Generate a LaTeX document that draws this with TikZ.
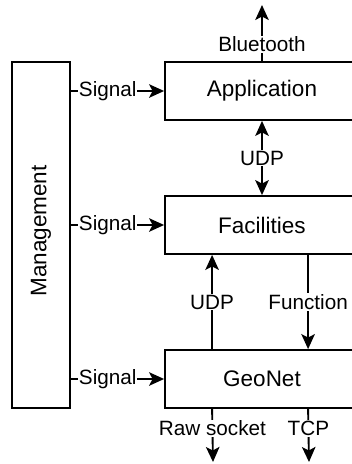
\documentclass[tikz,border=0pt]{standalone}
\usepackage{fontspec}
\setmainfont{Liberation Sans}
\usepackage{tikz}
\usetikzlibrary{arrows.meta}
\tikzstyle{layer}=[rectangle, draw=black, line width=1.8pt, minimum width=194pt, minimum height=58pt, inner sep=0pt, font=\fontsize{22.5}{26}\selectfont]
\tikzstyle{side} = [layer, minimum width=58pt, minimum height=346pt]
\tikzstyle{edge} = [draw, line width=1.9pt, black]
\tikzstyle{arrow} = [edge, -{Stealth[length=15pt, width=13.5pt, inset=3.5pt]}]
\tikzstyle{both} = [edge, {Stealth[length=15pt, width=13.5pt, inset=3.5pt]}-{Stealth[length=15pt, width=13.5pt, inset=3.5pt]}]
\tikzstyle{lbl} = [fill=white, inner sep=1pt, font=\fontsize{20.7}{24}\selectfont]

\begin{document}
\begin{tikzpicture}[x=1pt, y=-1pt]

	\useasboundingbox (0,0) rectangle (352,464);

	\node[side] (mgmt) at (41,235) {};
	\node[rotate=90, font=\fontsize{22.5}{26}\selectfont] (mgmt_t) at (41,231) {Management};

	\node[layer] (app) at (262,91) {Application};
	\node[layer] (fac) at (262,225) {Facilities};
	\node[layer] (geo) at (262,379) {GeoNet};

	\coordinate (bt) at (262,5);
	\coordinate (raw) at (213,462);
	\coordinate (tcp) at (309,462);

	% management signals
	\foreach \target in {app, fac, geo}{
		\draw[arrow] (mgmt.east |- \target) -- node[lbl, pos=.395] {Signal} (\target.west);
	}

	\draw[arrow] (app.north) -- node[lbl, pos=.3] {Bluetooth} (bt);
	\draw[both] (app.south) -- node[lbl] {UDP} (fac.north);

	\draw[arrow] ([xshift=48pt]geo.north west) -- node[lbl] {UDP} ([xshift=48pt]fac.south west);
	\draw[arrow] ([xshift=144pt]fac.south west) -- node[lbl] {Function} ([xshift=144pt]geo.north west);

	\draw[arrow] ([xshift=48pt]geo.south west) -- node[lbl, pos=.37] {Raw socket} (raw);
	\draw[arrow] ([xshift=144pt]geo.south west) -- node[lbl, pos=.37] {TCP} (tcp);
\end{tikzpicture}
\end{document}
